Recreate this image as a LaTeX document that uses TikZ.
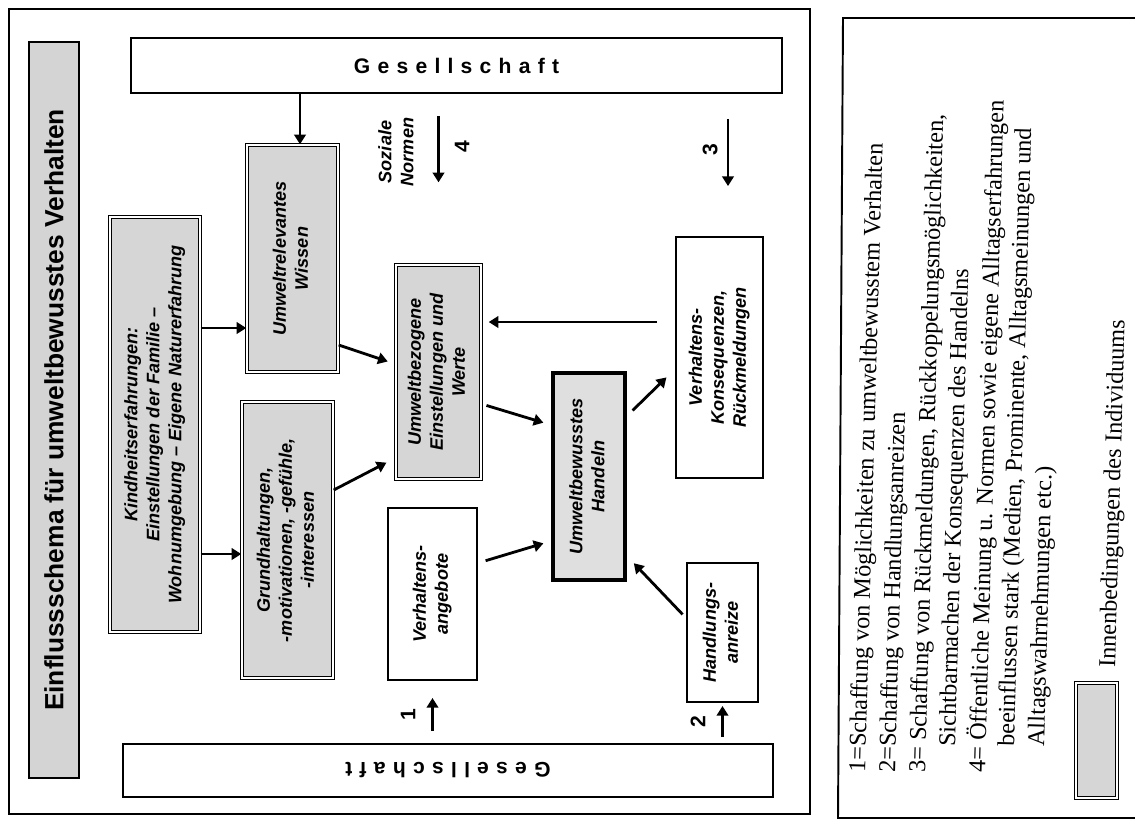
\documentclass[tikz,border=0pt]{standalone}
\usepackage{fontspec}
\setmainfont{Liberation Serif}
\newfontfamily\arial{Liberation Sans}
\usetikzlibrary{arrows.meta,calc}
\definecolor{innergray}{RGB}{214,214,214}
\definecolor{titlegray}{RGB}{212,212,212}
\newcommand\rt[1]{\rotatebox{90}{\begin{tabular}{@{}c@{}}#1\end{tabular}}}
\newcommand\ls{\hspace{0.145cm}}
\begin{document}
\begin{tikzpicture}[x=0.02cm,y=-0.02cm,
  arr/.style={line width=1.6pt,-{Triangle[length=5.5pt,width=6.5pt]}},
  frame/.style={draw,line width=1.1pt},
  innerbox/.style={draw,line width=0.8pt,double,double distance=1.1pt,fill=innergray,inner sep=0pt,
    font=\arial\bfseries\itshape\fontsize{10.3}{12.5}\selectfont},
  plainbox/.style={draw,line width=1.1pt,fill=white,inner sep=0pt,
    font=\arial\bfseries\itshape\fontsize{10.3}{12.5}\selectfont},
  num/.style={font=\arial\bfseries\fontsize{12}{14}\selectfont,inner sep=0pt},
  legtxt/.style={rotate=88.4,anchor=base west,inner sep=0pt,font=\fontsize{13.8}{17}\selectfont},
]
\useasboundingbox (0,0) rectangle (1135,823);
\fill[white] (0,0) rectangle (1135,823);

% frames
\draw[frame] (9,9) rectangle (810,814);
\draw[frame] (1140,18) -- (843,18) -- (838,818) -- (1140,818);

% title
\node[draw,line width=1.1pt,fill=titlegray,inner sep=0pt,minimum width=1.0cm,minimum height=14.72cm,
  font=\arial\bfseries\fontsize{15}{18}\selectfont] (title) at (54,410)
  {\rotatebox{90}{Einflussschema für umweltbewusstes Verhalten}};

% Gesellschaft boxes
\node[draw,line width=1.1pt,fill=white,inner sep=0pt,minimum width=13.02cm,minimum height=1.1cm,
  font=\arial\bfseries\fontsize{12}{14}\selectfont] (gesTop) at (456.5,65.5)
  {G\ls e\ls s\ls e\ls l\ls l\ls s\ls c\ls h\ls a\ls f\ls t};
\node[draw,line width=1.1pt,fill=white,inner sep=0pt,minimum width=13.0cm,minimum height=1.06cm,
  font=\arial\bfseries\fontsize{12}{14}\selectfont] (gesBot) at (448,770.5)
  {\rotatebox{180}{G\ls e\ls s\ls e\ls l\ls l\ls s\ls c\ls h\ls a\ls f\ls t}};

% inner condition boxes
\node[innerbox,minimum width=1.8cm,minimum height=8.3cm] (kind) at (155,424.5)
  {\rt{Kindheitserfahrungen:\\Einstellungen der Familie –\\Wohnumgebung – Eigene Naturerfahrung}};
\node[innerbox,minimum width=1.82cm,minimum height=4.54cm] (wissen) at (292.5,258.5)
  {\rt{Umweltrelevantes\\Wissen}};
\node[innerbox,minimum width=1.82cm,minimum height=5.52cm] (grund) at (287.5,540)
  {\rt{Grundhaltungen,\\-motivationen, -gefühle,\\-interessen}};
\node[innerbox,minimum width=1.7cm,minimum height=4.28cm] (einst) at (438.5,372)
  {\rt{Umweltbezogene\\Einstellungen und\\Werte}};
\node[draw,line width=2.2pt,fill=gray!25,inner sep=0pt,minimum width=1.44cm,minimum height=4.14cm,
  font=\arial\bfseries\itshape\fontsize{10.3}{12.5}\selectfont] (handeln) at (589,476.5)
  {\rt{Umweltbewusstes\\Handeln}};

% outer condition boxes
\node[plainbox,minimum width=1.78cm,minimum height=3.44cm] (vang) at (432.5,594)
  {\rt{Verhaltens-\\angebote}};
\node[plainbox,minimum width=1.74cm,minimum height=4.82cm] (konseq) at (719.5,357.5)
  {\rt{Verhaltens-\\Konsequenzen,\\Rückmeldungen}};
\node[plainbox,minimum width=1.42cm,minimum height=2.78cm] (anreiz) at (722.5,632.5)
  {\rt{Handlungs-\\anreize}};

% arrows
\coordinate (cw) at (300,0);
\coordinate (c3) at (728,0);
\draw[arr] (cw |- gesTop.south) -- (cw |- wissen.north);
\draw[arr] (kind.east |- 0,328) -- (wissen.west |- 0,328);
\draw[arr] (kind.east |- 0,554) -- (grund.west |- 0,554);
\draw[arr,shorten >=0.16cm] (wissen.east |- 0,345) -- (einst.west |- 0,364);
\draw[arr,shorten >=0.2cm] (grund.east |- 0,490) -- (einst.west |- 0,458);
\draw[arr,shorten <=0.1cm,shorten >=0.16cm] (einst.east |- 0,404) -- (handeln.west |- 0,425);
\draw[arr,shorten <=0.16cm,shorten >=0.16cm] (vang.east |- 0,563) -- (handeln.west |- 0,541);
\draw[arr,shorten <=0.1cm,shorten >=0.2cm] (anreiz.west |- 0,618) -- (handeln.east |- 0,556);
\draw[arr,shorten <=0.16cm,shorten >=0.24cm] (handeln.east |- 0,416) -- (konseq.west |- 0,369);
\draw[arr,shorten <=0.36cm,shorten >=0.14cm] (konseq.west |- 0,322) -- (einst.east |- 0,322);
\draw[arr,shorten <=0.44cm,shorten >=1.64cm] (einst.north |- gesTop.south) -- (einst.north);
\draw[arr,shorten <=0.5cm,shorten >=1.0cm] (c3 |- gesTop.south) -- (c3 |- konseq.north);
\draw[arr,shorten <=0.24cm,shorten >=0.34cm] (vang.south |- gesBot.north) -- (vang.south);
\draw[arr,shorten <=0.12cm,shorten >=0.06cm] (anreiz.south |- gesBot.north) -- (anreiz.south);

% arrow labels
\node[num,rotate=90] (n1) at (408,715) {1};
\node[num,rotate=90] (n2) at (698,722) {2};
\node[num,rotate=90] (n3) at (710,150) {3};
\node[num,rotate=90] (n4) at (462,147) {4};
\node[inner sep=0pt,font=\arial\bfseries\itshape\fontsize{10.3}{12.5}\selectfont] (soz) at (398,152)
  {\rt{Soziale\\Normen}};

% legend
\node[legtxt] (l1) at (865,773) {1=Schaffung von Möglichkeiten zu umweltbewusstem Verhalten};
\node[legtxt] (l2) at (895,773) {2=Schaffung von Handlungsanreizen};
\node[legtxt] (l3) at (925,773) {3= Schaffung von Rückmeldungen, Rückkoppelungsmöglichkeiten,};
\node[legtxt] (l3b) at (955,747) {Sichtbarmachen der Konsequenzen des Handelns};
\node[legtxt] (l4) at (985,773) {4= Öffentliche Meinung u. Normen sowie eigene Alltagserfahrungen};
\node[legtxt] (l5) at (1014,747) {beeinflussen stark (Medien, Prominente, Alltagsmeinungen und};
\node[legtxt] (l6) at (1044,747) {Alltagswahrnehmungen etc.)};
\node[innerbox,minimum width=0.82cm,minimum height=2.3cm] (legbox) at (1096.5,740.5) {};
\node[legtxt] (l7) at (1115,668) {Innenbedingungen des Individuums};
\end{tikzpicture}
\end{document}
